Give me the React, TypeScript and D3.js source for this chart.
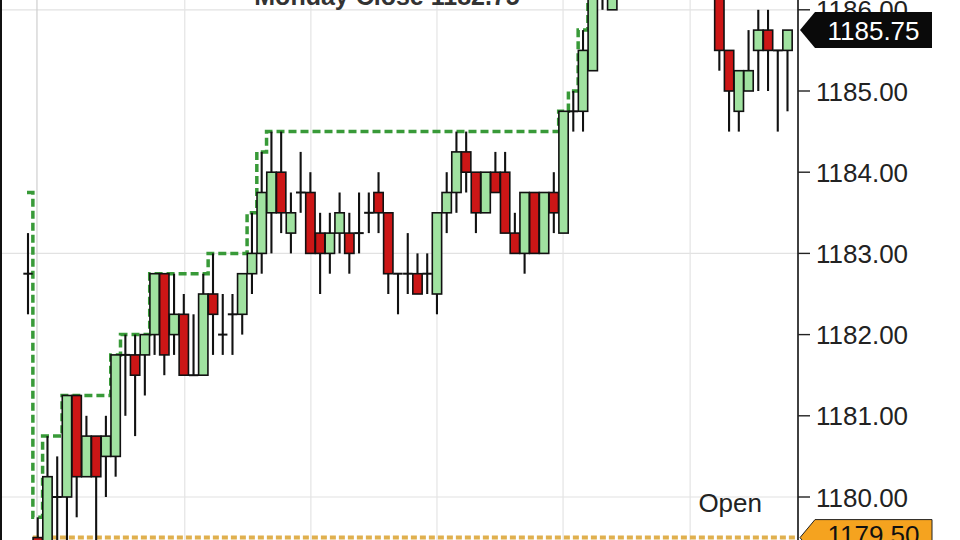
import React from 'react';
import * as d3 from 'd3';

// OHLC bars (index 0 = Monday close bar, 1.. = current session)
const opens = [
  1182.75, 1179.5, 1179.25, 1180.0, 1180.0, 1181.25, 1180.25, 1180.75, 1180.5, 1180.5,
  1181.75, 1181.75, 1181.75, 1182.0, 1182.75, 1182.0, 1182.25, 1181.5, 1181.5, 1182.5,
  1182.0, 1182.25, 1182.25, 1182.75, 1183.0, 1183.5, 1184.0, 1183.25, 1183.75, 1183.75,
  1183.25, 1183.0, 1183.25, 1183.25, 1183.25, 1183.5, 1183.75, 1183.5, 1182.75, 1182.75,
  1182.75, 1182.75, 1182.5, 1183.5, 1183.75, 1184.25, 1184.0, 1183.5, 1184.0, 1184.0,
  1183.25, 1183.0, 1183.75, 1183.0, 1183.75, 1183.25, 1184.75, 1184.75, 1185.25, 1186.5,
  1186.0, 1186.5, 1186.75, 1187.0, 1187.25, 1187.0, 1186.75, 1187.0, 1186.75, 1186.5,
  1186.5, 1186.75, 1185.5, 1184.75, 1185.0, 1185.5, 1185.75, 1185.5, 1185.5,
];
const highs = [
  1183.25, 1179.75, 1180.75, 1180.5, 1181.25, 1181.25, 1181.0, 1180.75, 1181.0, 1181.75,
  1182.0, 1182.0, 1182.0, 1182.75, 1182.75, 1182.75, 1182.5, 1182.25, 1182.75, 1183.0,
  1182.5, 1182.5, 1182.75, 1183.5, 1184.25, 1184.5, 1184.5, 1183.75, 1184.25, 1184.0,
  1183.5, 1183.5, 1183.75, 1183.5, 1183.75, 1183.75, 1184.0, 1183.5, 1182.75, 1183.25,
  1183.0, 1183.0, 1183.5, 1184.0, 1184.5, 1184.5, 1184.0, 1184.0, 1184.25, 1184.25,
  1183.5, 1183.75, 1183.75, 1183.75, 1184.0, 1184.75, 1185.0, 1185.75, 1186.75, 1187.0,
  1186.75, 1187.0, 1187.25, 1187.5, 1187.5, 1187.25, 1187.25, 1187.25, 1187.0, 1186.75,
  1186.75, 1186.75, 1185.5, 1185.25, 1185.75, 1186.0, 1186.0, 1185.5, 1185.75,
];
const lows = [
  1182.25, 1179.25, 1179.0, 1179.25, 1179.25, 1179.75, 1180.25, 1179.25, 1180.0, 1180.25,
  1181.0, 1180.75, 1181.25, 1181.75, 1181.5, 1181.75, 1181.5, 1181.5, 1181.5, 1181.75,
  1181.75, 1181.75, 1182.0, 1182.5, 1182.75, 1183.0, 1183.25, 1183.0, 1183.5, 1183.0,
  1182.5, 1182.75, 1183.0, 1182.75, 1183.0, 1183.25, 1183.25, 1182.5, 1182.25, 1182.5,
  1182.5, 1182.5, 1182.25, 1183.25, 1183.5, 1183.75, 1183.25, 1183.5, 1183.75, 1183.25,
  1183.0, 1182.75, 1183.0, 1183.0, 1183.25, 1183.25, 1184.5, 1184.5, 1185.25, 1186.0,
  1186.0, 1186.25, 1186.5, 1186.75, 1186.75, 1186.5, 1186.5, 1186.5, 1186.25, 1186.25,
  1186.25, 1185.25, 1184.5, 1184.5, 1185.0, 1185.0, 1185.0, 1184.5, 1184.75,
];
const closes = [
  1182.75, 1179.25, 1180.25, 1180.0, 1181.25, 1180.25, 1180.75, 1180.25, 1180.75, 1181.75,
  1181.75, 1181.5, 1182.0, 1182.75, 1181.75, 1182.25, 1181.5, 1181.5, 1182.5, 1182.25,
  1182.0, 1182.25, 1182.75, 1183.0, 1183.75, 1184.0, 1183.5, 1183.5, 1183.75, 1183.0,
  1183.0, 1183.25, 1183.5, 1183.0, 1183.25, 1183.5, 1183.5, 1182.75, 1182.75, 1182.75,
  1182.5, 1182.75, 1183.5, 1183.75, 1184.25, 1184.0, 1183.5, 1184.0, 1183.75, 1183.25,
  1183.0, 1183.75, 1183.0, 1183.75, 1183.5, 1184.75, 1184.75, 1185.5, 1186.5, 1186.75,
  1186.5, 1186.75, 1187.0, 1187.25, 1187.0, 1186.75, 1187.0, 1186.75, 1186.5, 1186.5,
  1186.75, 1185.5, 1185.0, 1185.25, 1185.25, 1185.75, 1185.5, 1185.5, 1185.75,
];

const prevSessionHigh = 1183.75;
const sessionOpen = 1179.5;
const lastPrice = 1185.75;
const mondayClose = 1182.75;
const priceTicks = [1180, 1181, 1182, 1183, 1184, 1185, 1186];
const gridPrices = [1180, 1183, 1186];
const timeGridIdx = [0.92, 16.1, 29.05, 42, 54.95, 68];

const W = 960;
const H = 540;
const AXIS_X = 798;
const FONT = '"Liberation Sans", Arial, Helvetica, sans-serif';

export default function App() {
  const n = opens.length;
  const x = d3.scaleLinear().domain([0, n - 1]).range([28, 787.5]);
  const y = d3.scaleLinear().domain([1179.5, 1186]).range([537.6, 9.8]);
  const step = x(1) - x(0);
  const bw = step - 0.4;
  const fmt = d3.format('.2f');

  // running session high (step line)
  const rh: number[] = [];
  for (let i = 0; i < n; i++) {
    if (i === 0) rh.push(prevSessionHigh);
    else if (i === 1) rh.push(highs[1]);
    else rh.push(Math.max(rh[i - 1], highs[i]));
  }
  const pts: [number, number][] = [[x(0) - 1, y(prevSessionHigh)]];
  for (let i = 1; i < n; i++) pts.push([x(i) - step / 2, y(rh[i])]);
  pts.push([x(n - 1) + step / 2, y(rh[n - 1])]);
  const hiLine = d3.line().curve(d3.curveStepAfter)(pts) || '';

  const tag = (cy: number) =>
    `M800,${cy} L815,${cy - 18} L932,${cy - 18} L932,${cy + 18} L815,${cy + 18} Z`;

  return (
    <>
      <style>{`body{margin:0}`}</style>
      <svg width={W} height={H} style={{ display: 'block', background: '#fff' }} fontFamily={FONT}>
        <defs>
          <clipPath id="plot">
            <rect x={0} y={0} width={AXIS_X} height={H} />
          </clipPath>
        </defs>
        <g clipPath="url(#plot)">
          {gridPrices.map((p) => (
            <line key={'hg' + p} x1={0} x2={AXIS_X} y1={y(p)} y2={y(p)} stroke="#e2e2e2" strokeWidth={1.2} />
          ))}
          {timeGridIdx.map((t, k) => (
            <line key={'vg' + k} x1={x(t)} x2={x(t)} y1={0} y2={H} stroke={k === 0 ? '#cfcfcf' : '#e4e4e4'} strokeWidth={1.2} />
          ))}
          <line x1={x(0.5)} x2={AXIS_X} y1={y(sessionOpen)} y2={y(sessionOpen)} stroke="#e0b04e" strokeWidth={4} strokeDasharray="6,3" />
          <path d={hiLine} fill="none" stroke="#389a38" strokeWidth={3.5} strokeDasharray="8,4" />
          {opens.map((o, i) => {
            const c = closes[i];
            const cx = x(i);
            const top = y(Math.max(o, c));
            const bot = y(Math.min(o, c));
            const doji = o === c;
            return (
              <g key={i}>
                <line x1={cx} x2={cx} y1={y(highs[i])} y2={y(lows[i])} stroke="#111" strokeWidth={2.1} />
                {doji ? (
                  <line x1={cx - bw / 2} x2={cx + bw / 2} y1={top} y2={top} stroke="#111" strokeWidth={2} />
                ) : (
                  <rect
                    x={cx - bw / 2}
                    y={top}
                    width={bw}
                    height={bot - top}
                    fill={c > o ? '#a0e2a0' : '#cc1616'}
                    stroke="#111"
                    strokeWidth={1.6}
                  />
                )}
              </g>
            );
          })}
          <text x={762} y={512} textAnchor="end" fontSize={26} fill="#222">Open</text>
          <text x={387} y={5} textAnchor="middle" fontSize={25} fontWeight="bold" fill="#333">
            {`Monday Close ${fmt(mondayClose)}`}
          </text>
        </g>
        <line x1={1} x2={1} y1={0} y2={H} stroke="#111" strokeWidth={2} />
        <line x1={AXIS_X} x2={AXIS_X} y1={0} y2={H} stroke="#111" strokeWidth={1.6} />
        {priceTicks.map((p) => (
          <g key={'t' + p}>
            <line x1={AXIS_X} x2={AXIS_X + 12} y1={y(p)} y2={y(p)} stroke="#222" strokeWidth={1.4} />
            <text x={816} y={y(p) + 9.5} fontSize={26} fill="#222">{fmt(p)}</text>
          </g>
        ))}
        <path d={tag(y(lastPrice))} fill="#0a0a0a" />
        <text x={873.5} y={y(lastPrice) + 9.5} textAnchor="middle" fontSize={26} fill="#fff">{fmt(lastPrice)}</text>
        <path d={tag(y(sessionOpen))} fill="#f5a31f" stroke="#222" strokeWidth={1} />
        <text x={873.5} y={y(sessionOpen) + 6} textAnchor="middle" fontSize={26} fill="#111">{fmt(sessionOpen)}</text>
      </svg>
    </>
  );
}
